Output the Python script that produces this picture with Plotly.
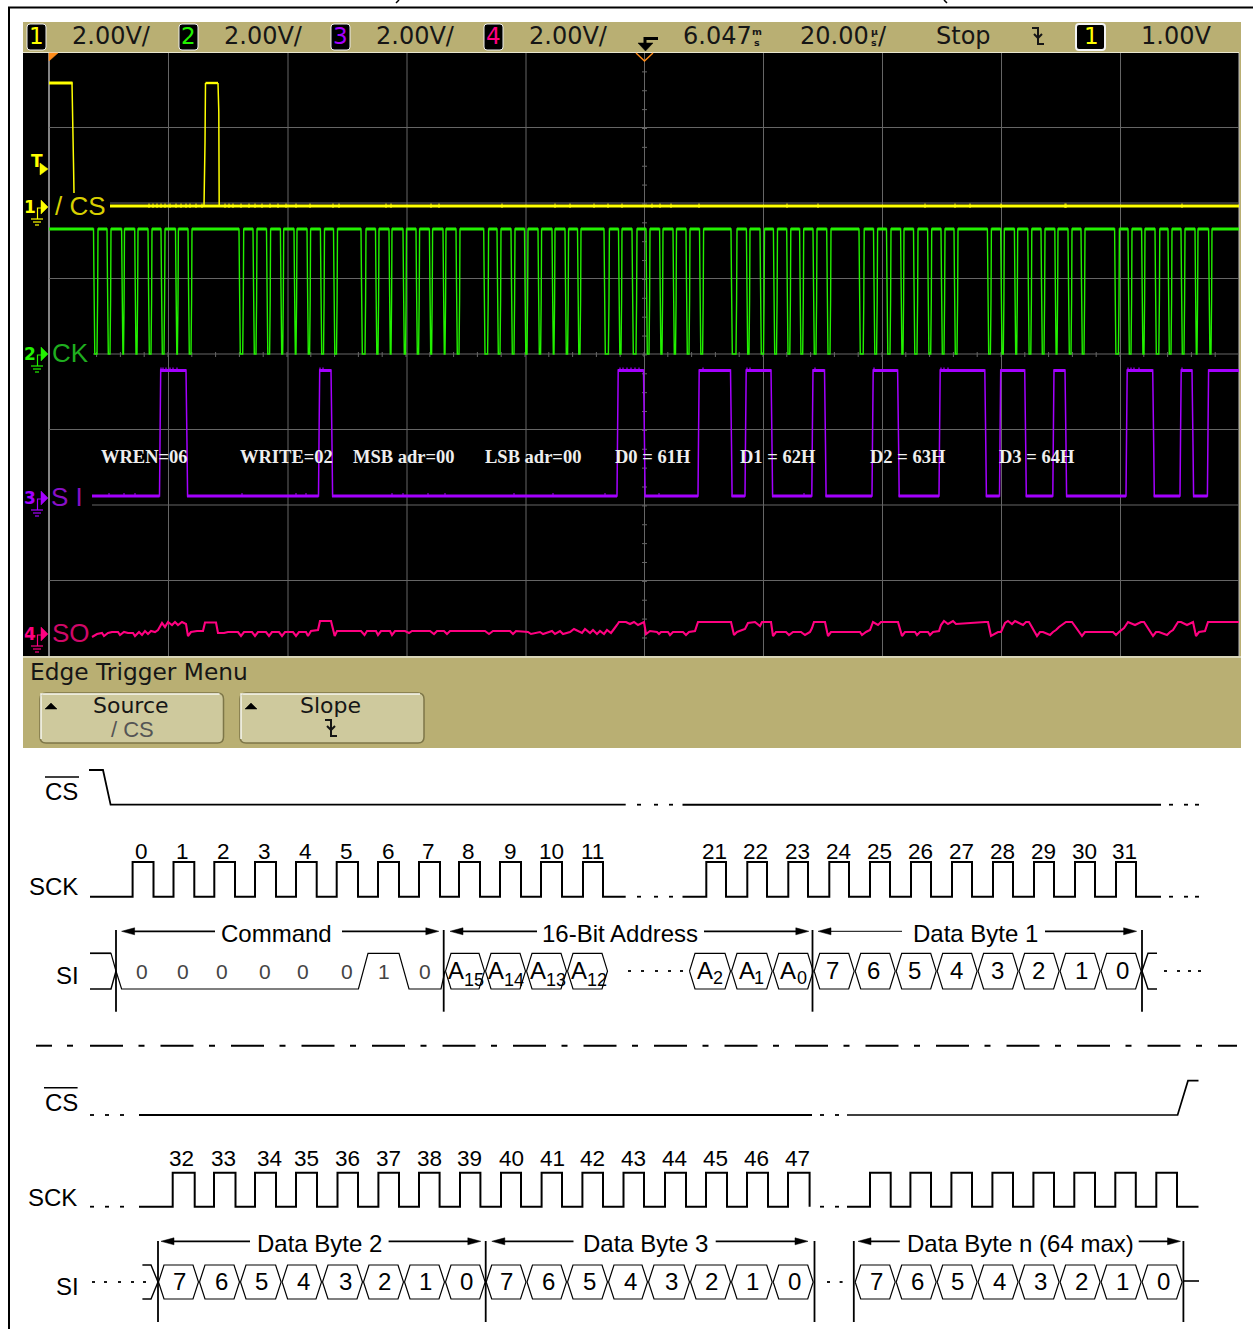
import plotly.graph_objects as go

W, H = 1253, 1329
KHAKI = "#b9af73"
BTN = "#cec99d"
GRID = "#666666"
YEL, GRN, PUR, PNK = "#ffff00", "#22f000", "#a400ff", "#ff0080"

# ---- oscilloscope captures (screen position of each edge) ----
cs_edges_x = [49, 72, 73.5, 74, 204, 205, 205.5, 218, 218.8, 219.2, 1239]
cs_edges_y = [83, 83, 163, 193, None, 143, 83, 83, 112, 206, 206]
cs_glitch_x = [149, 153, 157, 161, 165, 170, 176, 181, 186, 190, 196, 202, 225, 229, 233, 241, 249, 255, 262, 270, 278, 286,
               296, 310, 333, 339, 386, 391, 431, 439, 502, 555, 570, 594, 608, 622, 652, 660, 671, 699, 787, 818, 925, 955,
               970, 1001, 1065, 1066, 1182]
ck_falls = [93.5, 107, 121.6, 134.7, 148, 161, 175.5, 188,
            239, 253, 266.5, 280.4, 294, 307, 320.4, 333.5,
            361, 375.5, 389, 403, 416, 429.4, 443, 456,
            483.7, 497, 511, 524.5, 538, 552, 565, 577.5,
            604, 618.5, 632, 646, 659.6, 673, 686, 699.5,
            731, 746.4, 760, 773.4, 786.7, 799.6, 813, 826.7,
            859, 873.5, 886.5, 900.6, 913.5, 927.6, 941, 954,
            987.4, 1000.7, 1014.4, 1027.8, 1041, 1054.8, 1068, 1081,
            1114.6, 1128, 1141.6, 1155, 1168, 1181, 1195, 1208.6]
ck_rises = [98, 111, 124.5, 138, 152, 165, 178.4, 192,
            243.7, 257, 270.6, 283.7, 297, 310.6, 324.5, 337.5,
            366, 379, 392, 406.5, 419.6, 432.6, 446, 460,
            488.6, 501, 515, 528, 541.6, 555, 568.6, 581,
            609.4, 622, 637, 650, 663, 676.5, 690, 703.6,
            737, 750, 764.5, 777.5, 790.8, 803.7, 817, 831,
            864.2, 877.6, 891, 904, 918, 931.7, 945, 958,
            991.4, 1004.3, 1017.7, 1031.8, 1045, 1058, 1072, 1085,
            1119.4, 1132, 1145, 1159.8, 1172, 1185, 1198, 1212]
si_rises = [159.5, 318.5, 617, 698, 745, 811.8, 872, 939, 999.5, 1052.8, 1126, 1180, 1207.4]
si_falls = [187, 332, 644.5, 731.5, 772, 825.5, 898.6, 985.8, 1025.7, 1066, 1153.7, 1193]
si_low_glitch = [109, 124, 135, 242, 296, 306, 392, 403, 428, 445, 514, 553, 605, 659, 804]
si_high_glitch = [161, 163, 166, 170, 173, 177, 320, 323, 620, 623, 627, 631, 635, 639, 703, 747, 750, 815, 874, 941, 944, 948,
                  1128, 1131, 1134, 1139, 1182]
so_x = [92, 97, 102, 104, 108, 112, 118, 120, 124, 128, 133, 135, 139, 142, 145, 148, 151, 155, 158, 162, 165, 168, 172, 175, 178, 182,
        186, 188, 191, 197, 203, 205, 216, 218, 224, 228, 238, 241, 244, 252, 255, 258, 266, 269, 272, 279, 282, 285, 293, 296, 299, 306, 308,
        311, 318, 320, 331, 334.7, 337, 361, 364.5, 367, 376, 378, 381, 390, 392, 395, 405, 409, 412, 430, 434, 437, 444, 447, 450, 485, 489,
        493, 510, 513, 516, 528, 531, 540, 543, 552, 555, 560, 563, 570, 574, 582, 585, 590, 593, 597, 600, 604, 607, 611, 614, 617, 619, 626,
        630, 634, 638, 644, 646, 650, 657, 659, 661, 668, 670, 673, 683, 686, 689, 695, 698, 731, 734, 737, 745, 748, 755, 760, 762, 771, 773,
        776, 786, 789, 793, 801, 805, 810, 812, 814, 825, 828, 831, 860, 862, 866, 870, 873, 878, 881, 898, 902, 905, 915, 917, 920, 928, 930,
        933, 939, 941, 944, 948, 953, 956, 985, 988, 991, 998, 1001, 1005, 1008, 1012, 1015, 1023, 1026, 1029, 1037, 1040, 1043, 1050, 1053, 1056,
        1059, 1066, 1069, 1072, 1082, 1085, 1088, 1113, 1116, 1119, 1124, 1128, 1135, 1141, 1144, 1153, 1156, 1159, 1167, 1170, 1173, 1178, 1181,
        1187, 1193, 1196, 1199, 1205, 1208, 1239]
so_y = [637, 634, 633, 636, 633, 632, 632, 635, 632, 633, 633, 636, 632, 635, 631, 634, 631, 632, 630, 623, 627, 622, 625, 622, 625, 622,
        624, 636, 632, 631, 631, 622.5, 622.5, 633, 633, 632, 632, 636, 632, 632, 636, 632, 632, 636, 632, 632, 636, 632, 632, 636, 632, 632, 636,
        631, 630, 621, 621, 636, 631, 631, 635, 631, 631, 635, 631, 631, 635, 631, 631, 633, 631, 631, 634, 631, 631, 634, 631, 631, 634,
        631, 631, 634, 631, 632, 634, 632, 634, 631, 634, 631, 634, 632, 629, 633, 629, 633, 630, 634, 631, 634, 630, 633, 629, 625, 622, 622,
        624, 622, 625, 622, 634, 631, 632, 634, 632, 632, 635, 632, 632, 635, 632, 631, 622, 622, 635, 632, 629, 623, 622, 626, 622, 622, 636,
        632, 632, 635, 632, 632, 635, 632, 628, 622, 622, 636, 632, 632, 635, 632, 630, 622, 625, 622, 622, 636, 632, 632, 635, 632, 632, 635,
        632, 631, 625, 621, 624, 621, 624, 622, 622, 636, 632, 632, 623, 621, 624, 621, 625, 622, 622, 636, 632, 632, 635, 632, 630, 627, 622,
        622, 622, 636, 632, 632, 632, 635, 632, 628, 622, 625, 622, 622, 636, 632, 632, 635, 632, 630, 622, 622,
        625, 622, 636, 632, 631, 622, 622]

# ---- annotations on the capture ----
capture_notes = ["WREN=06", "WRITE=02", "MSB adr=00", "LSB adr=00", "D0 = 61H", "D1 = 62H", "D2 = 63H", "D3 = 64H"]
capture_note_x = [144, 286.5, 404, 532.5, 653, 778, 907.5, 1037]
header_text = ["2.00V/", "2.00V/", "2.00V/", "2.00V/", "6.047", "20.00", "/", "Stop", "1.00V"]
header_x = [111, 263.5, 415.5, 568, 717.5, 834.5, 882, 963, 1175.5]
channel_tags = ["1", "2", "3", "4"]
channel_tag_x = [36, 188.5, 340.5, 493]
channel_colors = [YEL, GRN, PUR, PNK]

# ---- timing diagram: page 1 ----
sck1a_rise = [132.6, 173.5, 214.3, 255, 296, 336.7, 378, 419, 459, 500, 541, 583]
sck1a_fall = [153.5, 194.3, 235, 276, 316.7, 358, 399, 440, 480, 521, 562, 603]
sck1b_rise = [706.3, 747.3, 788.3, 829.3, 870, 911, 952, 993, 1034, 1075, 1116]
sck1b_fall = [726, 767, 808, 849, 890, 931, 972, 1013, 1054, 1095, 1136]
clk1_labels = ["0", "1", "2", "3", "4", "5", "6", "7", "8", "9", "10", "11",
               "21", "22", "23", "24", "25", "26", "27", "28", "29", "30", "31"]
clk1_x = [141.6, 182.4, 223, 264.5, 305, 346, 388, 428, 468.6, 510, 551, 592,
          714.5, 755.5, 797.3, 838, 879, 920, 961, 1002, 1043, 1084, 1124.5]
cmd_bits = ["0", "0", "0", "0", "0", "0", "1", "0"]
cmd_bits_x = [141.6, 183.3, 221.6, 264.5, 303, 347, 383.7, 425]
addr_cells = [445, 485, 526, 567, 608, None, 689, 731, 772.7, 813.7]
addr_sub = ["15", "14", "13", "12", "2", "1", "0"]
addr_a_x = [456, 496, 538, 579, 705, 747, 788]
addr_sub_x = [473.5, 514, 556, 597, 717.5, 759, 802]
byte1_cells = [813.7, 854.7, 895.7, 936.7, 977.6, 1018.6, 1059.6, 1100.6, 1141.6]
byte_bits = ["7", "6", "5", "4", "3", "2", "1", "0"]
byte1_x = [832, 873.5, 914, 956.7, 997, 1038, 1081, 1122]

# ---- timing diagram: page 2 ----
sck2a_rise = [172.7, 214, 255, 296, 337.5, 378.4, 419, 460, 501, 541.6, 582.4, 623.5, 665, 706, 747, 788]
sck2a_fall = [194.7, 235.5, 276, 317, 358, 399, 439.6, 480.4, 521, 562, 603, 644, 686, 727, 768, 809.6]
sck2b_rise = [870, 910.4, 951.4, 992.4, 1033.4, 1074.3, 1115.3, 1156.3]
sck2b_fall = [890.7, 931, 972, 1013, 1054, 1095, 1135.8, 1177]
clk2_labels = [str(n) for n in (32, 33, 34, 35, 36, 37, 38, 39, 40, 41, 42, 43, 44, 45, 46, 47)]
clk2_x = [181.6, 223.7, 269.4, 306, 347.3, 388, 429, 469.8, 511, 552, 592.6, 633.8, 674.8, 715.7, 756.7, 797.7]
byte2_cells = [158, 199, 240, 281.6, 322, 363, 404, 445, 485.7]
byte2_x = [179.6, 221, 261.6, 303, 345, 384.5, 425.7, 466.5]
byte3_cells = [485.7, 526.5, 567, 608, 648, 690, 731, 772.7, 813.7]
byte3_x = [506.5, 548, 589, 630.5, 671.5, 711.6, 752.6, 794.4]
byten_cells = [854.7, 895.7, 936.7, 977.6, 1018.6, 1059.6, 1100.6, 1141.6, 1182.6]
byten_x = [876.4, 917.4, 957.5, 999.3, 1040.3, 1081.3, 1122.3, 1163.3]

grid_x = [49, 168.5, 288, 407, 526, 644.5, 763.5, 882.5, 1001.5, 1120.5, 1239]
grid_y = [127.5, 203, 278.5, 354, 429.5, 505, 580.5]
grid_y_start = [49, 110, 49, 93, 49, 92, 49]

fig = go.Figure()
shapes = []
notes = []


def rect(x0, y0, x1, y1, fill, line=None, lw=0, layer="below"):
    shapes.append(dict(type="rect", x0=x0, y0=y0, x1=x1, y1=y1, fillcolor=fill, layer=layer,
                       line=dict(color=line or fill, width=lw)))


def line(xs, ys, color="black", width=1.5, dash=None):
    fig.add_trace(go.Scatter(x=xs, y=ys, mode="lines", hoverinfo="skip",
                             line=dict(color=color, width=width, dash=dash, simplify=False)))


def poly(xs, ys, color):
    fig.add_trace(go.Scatter(x=xs, y=ys, mode="lines", fill="toself", fillcolor=color, hoverinfo="skip",
                             line=dict(color=color, width=0.5)))


def text(s, x, y, size=24, color="black", font="Liberation Sans", anchor="center", bold=False):
    notes.append(dict(text=f"<b>{s}</b>" if bold else s, x=x, y=y, xref="x", yref="y", showarrow=False,
                      xanchor=anchor, yanchor="middle", borderpad=0,
                      font=dict(size=size, color=color, family=font, weight="bold" if bold else "normal")))


def segs(pairs, y):
    xs, ys = [], []
    for a, b in pairs:
        xs += [a, b, None]
        ys += [y, y, None]
    return xs, ys


def ticks(xs, y0, y1):
    ox, oy = [], []
    for x in xs:
        ox += [x, x, None]
        oy += [y0, y1, None]
    return ox, oy


def rounded(x0, y0, x1, y1, r=6):
    return (f"M{x0+r},{y0} L{x1-r},{y0} Q{x1},{y0} {x1},{y0+r} L{x1},{y1-r} Q{x1},{y1} {x1-r},{y1} "
            f"L{x0+r},{y1} Q{x0},{y1} {x0},{y1-r} L{x0},{y0+r} Q{x0},{y0} {x0+r},{y0} Z")


# page frame
line([9, 9, 1253], [1329, 7.5, 7.5], "black", 2)
line([396, 399, None, 944, 947], [3, 0, None, 0, 3], "black", 1.5)

# scope panels
rect(23, 22, 1241, 52, KHAKI)
rect(23, 52, 1239, 656, "black")
rect(1239, 52, 1241, 656, KHAKI)
rect(23, 656, 1241, 748, KHAKI)
rect(23, 52, 1239, 53, "#e8e6d0")
rect(23, 656, 1241, 658, "#d8d5b8")

# graticule
for gx in grid_x[1:-1]:
    line([gx, gx], [53, 656], GRID, 1)
line([49, 49], [53, 656], "#dddddd", 1.2)
line([1239, 1239], [53, 656], "#bbbbbb", 1)
for gy, gs in zip(grid_y, grid_y_start):
    line([gs, 1239], [gy, gy], GRID, 1)
tx, ty = [], []
for i in range(1, 32):
    yy = 53 + i * 18.87
    tx += [642, 647, None]
    ty += [yy, yy, None]
line(tx, ty, GRID, 1)
tx, ty = [], []
for i in range(1, 50):
    xx = 49 + i * 23.8
    if xx > 93:
        tx += [xx, xx, None]
        ty += [352, 357, None]
line(tx, ty, GRID, 1)

# channel 1
line([110, 1239], [206, 206], YEL, 3)
line([49, 72.5], [83, 83], YEL, 3)
line([205.5, 218], [83, 83], YEL, 2.4)
line(cs_edges_x[:4], cs_edges_y[:4], YEL, 1.5)
line([204, 205, 205.5], [206, 143, 83], YEL, 1.5)
line([218, 218.8, 219.2], [83, 112, 206], YEL, 1.5)
gx, gy = ticks(cs_glitch_x, 203.5, 208)
line(gx, gy, YEL, 1)

# channel 2
cx, cy = [49], [229]
for f, r in zip(ck_falls, ck_rises):
    cx += [f, f + 0.5, f + 1.3, r - 1, r - 0.4, r]
    cy += [229, 282, 354, 354, 300, 229]
cx += [1239]
cy += [229]
line(cx, cy, GRN, 1.4)
tops = [(49, ck_falls[0])] + [(ck_rises[i], ck_falls[i + 1]) for i in range(len(ck_rises) - 1)] + [(ck_rises[-1], 1239)]
tx, ty = segs(tops, 229)
line(tx, ty, GRN, 3)

# channel 3
sx, sy = [92, si_rises[0]], [496, 496]
for i, r in enumerate(si_rises):
    sx += [r + 0.6, r + 1.2]
    sy += [430, 370]
    if i < len(si_falls):
        f = si_falls[i]
        sx += [f - 1, f, f + 0.6, si_rises[i + 1]]
        sy += [370, 445, 496, 496]
sx += [1239]
sy += [370]
lows = [(92, si_rises[0])] + [(si_falls[i], si_rises[i + 1]) for i in range(len(si_falls))]
highs = [(si_rises[i] + 1, si_falls[i] - 1) for i in range(len(si_falls))] + [(si_rises[-1] + 1, 1239)]
line(sx, sy, PUR, 1.5)
tx, ty = segs(lows, 496)
line(tx, ty, PUR, 3)
tx, ty = segs(highs, 370.5)
line(tx, ty, PUR, 3)
gx, gy = ticks(si_low_glitch, 493, 497)
line(gx, gy, PUR, 1)
gx, gy = ticks(si_high_glitch, 367.5, 372)
line(gx, gy, PUR, 1.2)

# channel 4
line(so_x, so_y, PNK, 2.1)

# channel tags on screen
text("/ CS", 80, 206, 26, "#d8d000")
text("CK", 70, 353, 26, "#1fae1f")
text("S I", 67, 497, 26, "#8a10c8")
text("SO", 71, 633, 26, "#d00868")
for lab, ly, col, lx in zip(channel_tags, [207, 354, 498, 634], channel_colors, [30, 30, 30, 30]):
    text(lab, lx, ly, 17, col, "DejaVu Sans", bold=True)
    poly([41, 48, 41, 41], [ly - 7, ly, ly + 7, ly - 7], col)
    line([42, 37.5, 37.5, None, 31, 43, None, 33, 41, None, 35, 39],
         [ly + 1, ly + 1, ly + 12, None, ly + 12, ly + 12, None, ly + 15, ly + 15, None, ly + 18, ly + 18], col, 1.2)
text("T", 37, 161, 17, YEL, "DejaVu Sans", bold=True)
poly([40, 48, 40, 40], [163, 169, 175, 163], YEL)
poly([49, 58, 49, 49], [53, 53, 61, 53], "#ff8c1a")
line([636, 644.5, 653], [53, 61, 53], "#ff8c1a", 1.4)

# capture notes
for s, x in zip(capture_notes, capture_note_x):
    text(s, x, 457, 18.5, "#eeeeee", "Liberation Serif", bold=True)

# header
for s, x in zip(header_text, header_x):
    text(s, x, 36, 24, "#161616", "DejaVu Sans")
for s, x in zip(["m", "µ"], [757, 874]):
    text(s, x, 31, 9.5, "#161616", "DejaVu Sans", bold=True)
    text("s", x, 42, 9.5, "#161616", "DejaVu Sans", bold=True)
for x0, x1 in [(27, 46), (179, 198), (331, 350), (484, 503)]:
    shapes.append(dict(type="path", path=rounded(x0, 24, x1, 50, 3), fillcolor="black", layer="below",
                       line=dict(color="#eeeeee", width=1)))
for lab, x, col in zip(channel_tags, channel_tag_x, channel_colors):
    text(lab, x, 36, 23, col, "DejaVu Sans")
shapes.append(dict(type="path", path=rounded(1076, 24, 1105, 50, 3), fillcolor="black", layer="below",
                   line=dict(color="#f4f4f4", width=2)))
text("1", 1091, 36, 23, YEL, "DejaVu Sans")
# trigger position arrow and slope glyphs
line([658, 645, 645], [38.5, 38.5, 46], "black", 3)
poly([638, 653, 645.5, 638], [43, 43, 51, 43], "black")


def slope(x, y, color="#161616"):
    line([x - 6, x, x, x + 6], [y - 8, y - 8, y + 8, y + 8], color, 2)
    line([x - 4, x, x + 4], [y - 2, y + 2, y - 2], color, 2)


slope(1038, 36)

# menu
text("Edge Trigger Menu", 138.5, 671, 23.3, "#161616", "DejaVu Sans")
for x0, x1 in [(40, 223.5), (240, 424)]:
    shapes.append(dict(type="path", path=rounded(x0, 693, x1, 743), fillcolor=BTN, layer="below",
                       line=dict(color="#7d7648", width=1.5)))
    line([x0 + 1, x0 + 1, x1 - 4], [739, 694, 694], "#f8f8f0", 1.5)
    poly([x0 + 5, x0 + 17, x0 + 11, x0 + 5], [709, 709, 703, 709], "black")
text("Source", 131, 705, 22, "#161616", "DejaVu Sans")
text("/ CS", 132, 729, 22, "#555555", "Liberation Sans")
text("Slope", 330.5, 705, 22, "#161616", "DejaVu Sans")
slope(331, 728)


# ---- timing diagram ----
def clock(start, rises, falls, end, lo, hi):
    xs, ys = [start], [lo]
    for r, f in zip(rises, falls):
        xs += [r, r, f, f]
        ys += [lo, hi, hi, lo]
    xs.append(end)
    ys.append(lo)
    line(xs, ys, "black", 2)


def dots(xs, y, w=4, width=1.8):
    ox, oy = [], []
    for x in xs:
        ox += [x, x + w, None]
        oy += [y, y, None]
    line(ox, oy, "black", width)


def hexes(cells, hi, lo):
    m = (hi + lo) / 2
    xs, ys = [], []
    for a, b in zip(cells[:-1], cells[1:]):
        if a is None or b is None:
            continue
        xs += [a + 0.5, a + 6, b - 6, b - 0.5, b - 6, a + 6, a + 0.5, None]
        ys += [m, hi, hi, m, lo, lo, m, None]
    line(xs, ys, "black", 1.2)


def arrow(tip, end, y, lw=1.8):
    d = 1 if end > tip else -1
    line([tip + d * 8, end], [y, y], "black", lw)
    poly([tip, tip + d * 13, tip + d * 13, tip], [y, y - 3.5, y + 3.5, y], "black")


# first page
line([89, 103, 110.6, 625.7], [770, 770, 804.7, 804.7], "black", 1.8)
line([682.5, 1161], [804.7, 804.7], "black", 2)
dots([637, 654, 669], 804.7)
dots([1169, 1184, 1195], 804.7)
line([45, 79], [777, 777], "black", 1.5)
text("CS", 61.5, 791, 24)
text("SCK", 53.5, 886.5, 24)
clock(90, sck1a_rise, sck1a_fall, 625.7, 896.7, 862)
clock(682.5, sck1b_rise, sck1b_fall, 1161, 896.7, 862)
dots([637, 654, 669], 896.7)
dots([1169, 1184, 1195], 896.7)
for s, x in zip(clk1_labels, clk1_x):
    text(s, x, 851, 22.5)
text("SI", 67.5, 975, 24)
line([90, 111, 116, 121.6, 358.4, 368, 399, 409, 441, 445],
     [953.3, 953.3, 971, 989, 989, 953.3, 953.3, 989, 989, 971], "black", 1.2)
line([90, 111, 116], [989, 989, 971], "black", 1.4)
line([90, 111], [953.3, 953.3], "black", 1.6)
for x in [116, 443.7, 812.5, 1142]:
    line([x, x], [930, 1011.7], "black", 1.8)
for s, x in zip(cmd_bits, cmd_bits_x):
    text(s, x, 971, 21, "#444444")
hexes(addr_cells, 953.3, 989)
hexes(byte1_cells, 953.3, 989)
for i, s in enumerate(addr_sub):
    text("A", addr_a_x[i], 970, 24)
    text(s, addr_sub_x[i], 980 if i < 4 else 978, 18)
for s, x in zip(byte_bits, byte1_x):
    text(s, x, 970, 24)
dots([628, 641, 655, 668, 680], 971, 3)
line([1142, 1148, 1157, None, 1142, 1148, 1157], [971, 953.3, 953.3, None, 971, 989, 989], "black", 1.4)
dots([1164, 1177, 1188, 1198], 971, 3)
arrow(121.6, 215, 931.3)
text("Command", 276.5, 933, 24)
arrow(438.8, 342, 931.3)
arrow(450, 537, 931.3)
text("16-Bit Address", 620, 933, 24)
arrow(808.8, 704, 931.3)
arrow(818, 902, 931.3, 1)
text("Data Byte 1", 975, 933, 24)
arrow(1136.6, 1045, 931.3)

# separator
line([90, 1237], [1045.7, 1045.7], "black", 2, "33px,15.5px,6px,16px")
line([36, 52, None, 67, 73], [1045.7, 1045.7, None, 1045.7, 1045.7], "black", 2)

# second page
line([44, 77.6], [1087.7, 1087.7], "black", 1.5)
text("CS", 61, 1102, 24)
dots([90, 105, 120], 1115)
line([139, 812], [1115, 1115], "black", 2)
dots([820, 835], 1115)
line([847, 1177.6, 1188, 1198.5], [1115, 1115, 1080.7, 1080.7], "black", 1.7)
text("SCK", 52.5, 1197, 24)
dots([90, 105, 120], 1206.7)
clock(139, sck2a_rise, sck2a_fall, 809.6, 1206.7, 1172.7)
dots([820, 835], 1206.7)
clock(847, sck2b_rise, sck2b_fall, 1198.5, 1206.7, 1172.7)
for s, x in zip(clk2_labels, clk2_x):
    text(s, x, 1158, 22.5)
text("SI", 67.5, 1286, 24)
dots([92, 104, 118, 131, 143], 1282, 3)
line([142.4, 151, 158, 151, 142.4], [1265, 1265, 1282, 1299, 1299], "black", 1.4)
for x in [158, 485.7, 814.5, 853.8, 1183.4]:
    line([x, x], [1241, 1322], "black", 1.8)
hexes(byte2_cells, 1265, 1299)
hexes(byte3_cells, 1265, 1299)
hexes(byten_cells, 1265, 1299)
for xs_ in (byte2_x, byte3_x, byten_x):
    for s, x in zip(byte_bits, xs_):
        text(s, x, 1281, 24)
dots([827, 839.6], 1282, 3)
line([1183, 1199], [1281, 1281], "black", 1.6)
arrow(161, 250, 1241.3)
text("Data Byte 2", 319, 1243, 24)
arrow(480.8, 388.6, 1241.3)
arrow(491.8, 573.5, 1241.3)
text("Data Byte 3", 645.7, 1243, 24)
arrow(808, 715.7, 1241.3)
arrow(858, 899.8, 1241.3)
text("Data Byte n (64 max)", 1020, 1243, 24)
arrow(1180.5, 1138.7, 1241.3)

fig.update_layout(
    width=W, height=H, margin=dict(l=0, r=0, t=0, b=0, pad=0), showlegend=False,
    paper_bgcolor="white", plot_bgcolor="white", hovermode=False, shapes=shapes, annotations=notes,
    xaxis=dict(range=[0, W], visible=False, fixedrange=True),
    yaxis=dict(range=[H, 0], visible=False, fixedrange=True),
)
fig.write_html("out.html", post_script="document.body.style.margin='0';document.body.style.overflow='hidden';",
               config=dict(displayModeBar=False))
